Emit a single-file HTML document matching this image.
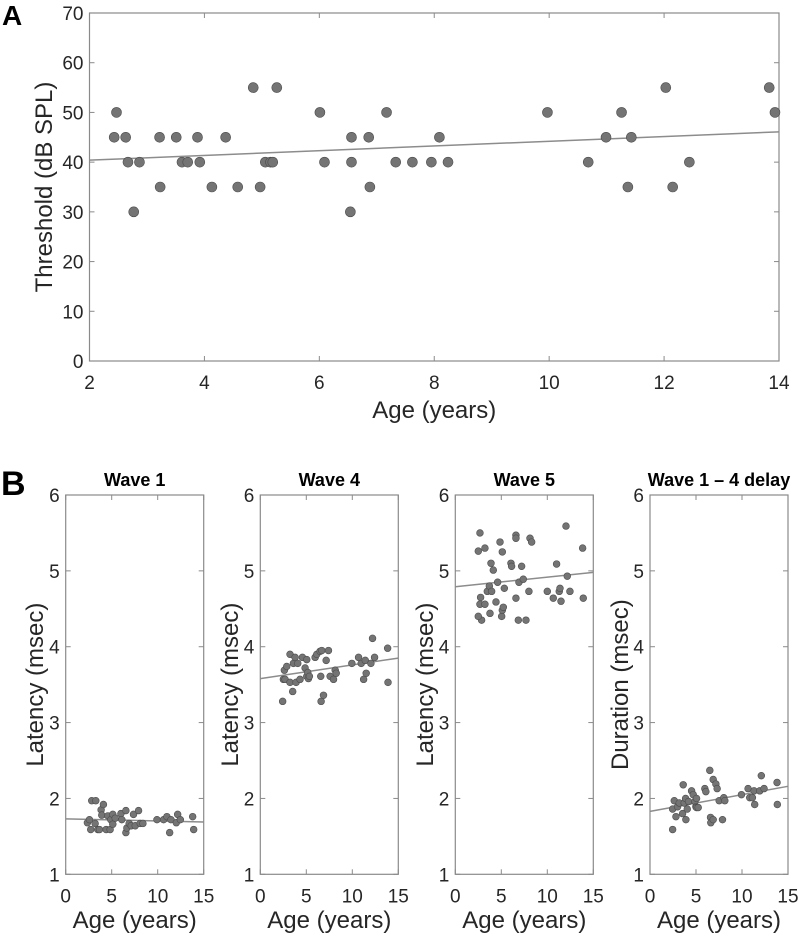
<!DOCTYPE html>
<html><head><meta charset="utf-8"><style>
body{margin:0;background:#fff;}
svg text{font-family:"Liberation Sans",Arial,sans-serif;fill:#262626;}
</style></head><body>
<svg id="fig" width="800" height="933" viewBox="0 0 800 933" xmlns="http://www.w3.org/2000/svg">
<text x="2" y="25" font-size="28" font-weight="bold" style="fill:#000">A</text>
<text x="1" y="495" font-size="34" font-weight="bold" style="fill:#000">B</text>
</svg>
<script>
// Panel A data
const aAges=[2.43,2.47,2.63,2.67,2.77,2.87,3.22,3.23,3.51,3.61,3.71,3.88,3.92,4.13,4.37,4.58,4.85,4.97,5.06,5.15,5.19,5.26,6.01,6.09,6.54,6.56,6.56,6.86,6.88,7.17,7.33,7.62,7.95,8.09,8.24,9.97,10.68,10.99,11.26,11.37,11.43,12.03,12.15,12.44,13.83,13.93];
const aThresh=[45,50,45,40,30,40,45,35,45,40,40,45,40,35,45,35,55,35,40,40,40,55,50,40,30,45,40,45,35,50,40,40,40,45,40,50,40,45,50,35,45,55,35,40,55,50];
const aFit=[40.4,46.1];
const aXTicks=[2,4,6,8,10,12,14];
const aYTicks=[0,10,20,30,40,50,60,70];
// Panel B data
const w1Ages=[2.36,2.58,2.72,2.83,3.27,3.20,3.49,3.67,3.85,3.92,4.10,4.40,4.58,4.83,4.90,5.12,5.12,5.38,6.0,6.1,6.54,6.54,6.65,6.9,7.12,7.37,7.56,7.92,8.1,8.39,9.92,10.64,11.0,11.3,11.44,12.02,12.17,12.46,13.8,13.91];
const w1Lat=[1.68,1.72,1.59,1.97,1.97,1.67,1.59,1.59,1.85,1.78,1.92,1.59,1.77,1.59,1.72,1.79,1.66,1.74,1.80,1.72,1.84,1.55,1.61,1.67,1.64,1.79,1.64,1.84,1.67,1.67,1.72,1.72,1.76,1.55,1.72,1.68,1.79,1.72,1.76,1.59];
const w1Fit=[1.73,1.69];
const w4Ages=[2.43,2.51,2.62,2.69,2.87,3.23,3.23,3.52,3.6,3.78,3.89,4.07,4.32,4.58,4.87,5.05,5.05,5.16,5.23,5.34,5.96,6.14,6.5,6.57,6.68,6.61,6.87,7.16,7.41,7.59,7.96,8.14,8.25,9.95,10.68,10.97,11.23,11.41,11.51,12.02,12.2,12.42,13.84,13.88];
const w4Lat=[3.28,3.57,3.69,3.57,3.74,3.90,3.53,3.41,3.78,3.86,3.53,3.78,3.57,3.86,3.72,3.83,3.61,3.66,3.58,3.61,3.86,3.90,3.94,3.61,3.95,3.28,3.36,3.82,3.95,3.61,3.57,3.69,3.65,3.78,3.86,3.78,3.57,3.82,3.65,3.78,4.11,3.86,3.98,3.53];
const w4Fit=[3.58,3.85];
const w5Ages=[2.5,2.68,2.75,2.68,2.86,2.5,3.22,3.22,3.48,3.7,3.77,3.88,3.95,4.13,4.42,4.6,4.86,5.04,5.11,5.11,5.22,5.33,6.05,6.12,6.59,6.59,6.59,6.85,6.92,7.21,7.39,8.0,8.12,8.3,7.68,10.0,10.65,11.01,11.3,11.38,11.49,12.17,12.46,12.03,13.84,13.91];
const w5Lat=[5.26,5.50,4.65,4.56,4.35,4.40,5.30,4.56,4.73,4.80,4.44,5.10,4.73,5.01,4.59,4.85,5.38,4.40,5.25,4.48,4.52,4.77,5.10,5.06,4.64,5.47,5.43,4.35,4.85,5.06,4.89,4.73,5.43,5.38,4.35,4.73,4.64,5.09,4.73,4.77,4.60,4.93,4.73,5.59,5.30,4.64];
const w5Fit=[4.79,4.98];
const dAges=[2.46,2.46,2.64,2.82,3.0,3.18,3.54,3.61,3.72,3.87,3.9,4.05,4.19,4.52,4.7,4.88,4.99,5.06,5.06,5.24,5.96,6.07,6.5,6.58,6.61,6.87,6.87,7.16,7.3,7.52,7.88,8.02,8.13,9.94,10.66,10.84,11.13,11.31,11.38,11.93,12.1,12.4,13.81,13.84];
const dDur=[1.59,1.86,1.97,1.76,1.89,1.94,1.80,2.18,1.94,2.00,1.72,1.86,1.96,2.10,2.05,1.96,1.89,2.00,1.88,1.88,2.13,2.09,2.37,1.75,1.68,2.25,1.72,2.19,2.13,1.97,1.72,2.01,1.97,2.05,2.13,2.01,2.01,2.10,1.92,2.10,2.30,2.13,2.21,1.92];
const dFit=[1.83,2.16];
const bXTicks=[0,5,10,15];
const bYTicks=[1,2,3,4,5,6];

const svg=document.getElementById('fig');
const NS='http://www.w3.org/2000/svg';
function mk(tag,attrs,parent){const e=document.createElementNS(NS,tag);for(const k in attrs)e.setAttribute(k,attrs[k]);(parent||svg).appendChild(e);return e;}

function panel(o){
  const g=mk('g',{});
  
  
  const sx=v=>o.x0+(v-o.xmin)/(o.xmax-o.xmin)*(o.x1-o.x0);
  const sy=v=>o.y1-(v-o.ymin)/(o.ymax-o.ymin)*(o.y1-o.y0);
  const box=mk('rect',{x:o.x0,y:o.y0,width:o.x1-o.x0,height:o.y1-o.y0,fill:'none',stroke:'#8a8a8a','stroke-width':1.2},g);
  
  
  o.xt.forEach(t=>{
    const x=sx(t);
    mk('line',{x1:x,x2:x,y1:o.y1,y2:o.y1-5,stroke:'#8a8a8a'},g);
    mk('line',{x1:x,x2:x,y1:o.y0,y2:o.y0+5,stroke:'#8a8a8a'},g);
    const tx=mk('text',{x:x,y:o.y1+28,'font-size':19,'text-anchor':'middle'},g);
    tx.textContent=t;
    
    
  });
  o.yt.forEach(t=>{
    const y=sy(t);
    mk('line',{x1:o.x0,x2:o.x0+5,y1:y,y2:y,stroke:'#8a8a8a'},g);
    mk('line',{x1:o.x1,x2:o.x1-5,y1:y,y2:y,stroke:'#8a8a8a'},g);
    const ty=mk('text',{x:o.x0-6,y:y+7,'font-size':19,'text-anchor':'end'},g);
    ty.textContent=t;
    
    
  });
  const fit=mk('line',{x1:sx(o.xmin),x2:sx(o.xmax),y1:sy(o.fit[0]),y2:sy(o.fit[1]),stroke:'#8c8c8c','stroke-width':1.5},g);
  
  
  o.xs.forEach((v,i)=>{
    const c=mk('circle',{cx:sx(v),cy:sy(o.ys[i]),r:o.r,fill:'#747474',stroke:'#4d4d4d','stroke-width':0.6},g);
    
    
  });
  const xl=mk('text',{x:(o.x0+o.x1)/2,y:o.xly,'font-size':24,'text-anchor':'middle'},g);
  xl.textContent='Age (years)';
  
  
  const yl=mk('text',{x:0,y:0,'font-size':24,'text-anchor':'middle',transform:`translate(${o.ylx},${(o.y0+o.y1)/2}) rotate(-90)`},g);
  yl.textContent=o.ylabel;
  
  
  if(o.title){
    const tt=mk('text',{x:(o.x0+o.x1)/2,y:o.y0-9,'font-size':18,'font-weight':'bold','text-anchor':'middle',style:'fill:#000'},g);
    tt.textContent=o.title;
    
    
  }
}
panel({name:'threshold-chart',x0:89.5,x1:779,y0:13,y1:361,xmin:2,xmax:14,ymin:0,ymax:70,xt:aXTicks,yt:aYTicks,xs:aAges,ys:aThresh,fit:aFit,r:5,xly:418,ylx:52,ylabel:'Threshold (dB SPL)'});
const lefts=[65.7,260.3,455.3,650];
const defs=[
 {name:'wave1-chart',title:'Wave 1',xs:w1Ages,ys:w1Lat,fit:w1Fit,ylabel:'Latency (msec)',ylx:43},
 {name:'wave4-chart',title:'Wave 4',xs:w4Ages,ys:w4Lat,fit:w4Fit,ylabel:'Latency (msec)',ylx:238},
 {name:'wave5-chart',title:'Wave 5',xs:w5Ages,ys:w5Lat,fit:w5Fit,ylabel:'Latency (msec)',ylx:433},
 {name:'delay-chart',title:'Wave 1 \u2013 4 delay',xs:dAges,ys:dDur,fit:dFit,ylabel:'Duration (msec)',ylx:628}
];
defs.forEach((d,i)=>panel(Object.assign({x0:lefts[i],x1:lefts[i]+138,y0:495,y1:874.3,xmin:0,xmax:15,ymin:1,ymax:6,xt:bXTicks,yt:bYTicks,r:3.4,xly:928},d)));
</script>
</body></html>
